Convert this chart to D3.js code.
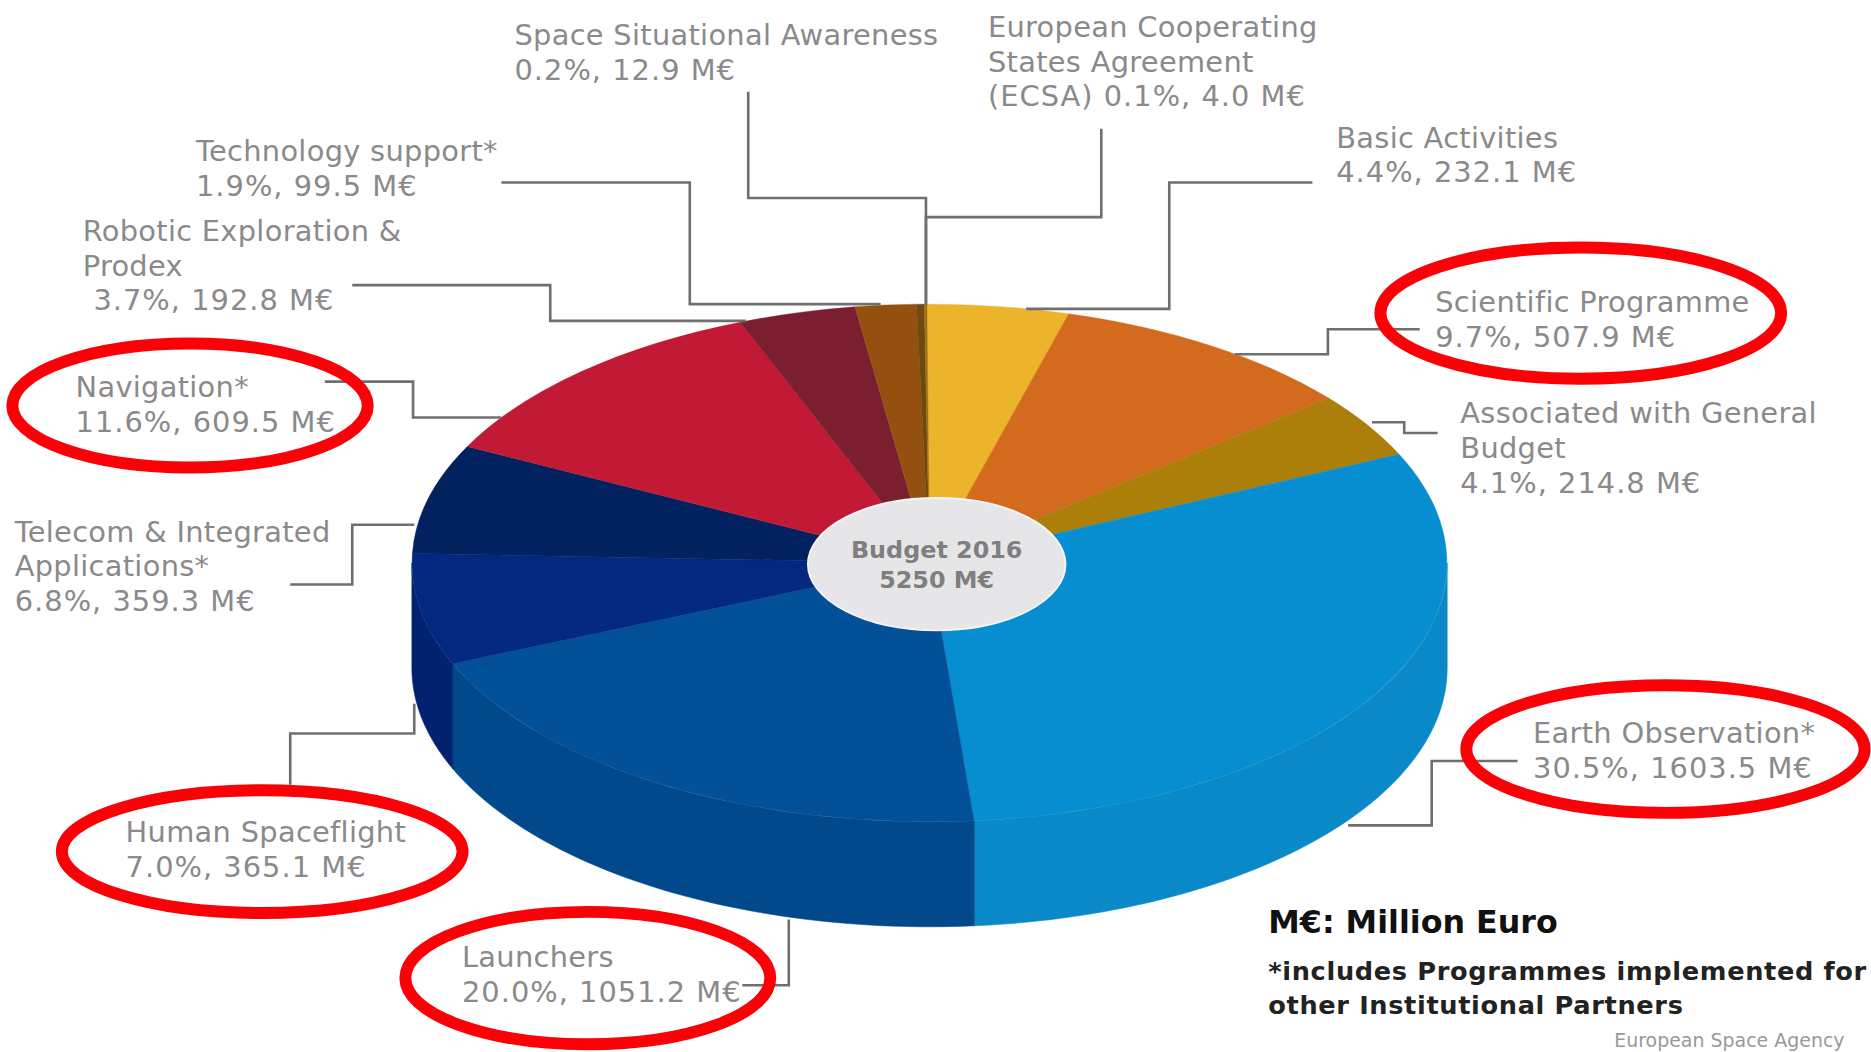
<!DOCTYPE html>
<html>
<head>
<meta charset="utf-8">
<title>ESA Budget 2016</title>
<script src="https://cdn.jsdelivr.net/npm/d3@7"></script>
<style>
  html, body { margin: 0; padding: 0; background: #fff; overflow: hidden; }
  svg { display: block; }
  text { font-family: "DejaVu Sans", Verdana, sans-serif; }
</style>
</head>
<body>
<svg id="chart" width="1871" height="1052" viewBox="0 0 1568 882"></svg>
<script>
// Programme budgets, clockwise from twelve o'clock
const programmes = ["Basic Activities", "Scientific Programme", "Associated with General Budget",
  "Earth Observation*", "Launchers", "Human Spaceflight", "Telecom & Integrated Applications*",
  "Navigation*", "Robotic Exploration & Prodex", "Technology support*",
  "Space Situational Awareness", "European Cooperating States Agreement (ECSA)"];
const shares = ["4.4", "9.7", "4.1", "30.5", "20.0", "7.0", "6.8", "11.6", "3.7", "1.9", "0.2", "0.1"];
const amounts = [232.1, 507.9, 214.8, 1603.5, 1051.2, 365.1, 359.3, 609.5, 192.8, 99.5, 12.9, 4.0];
const topColours = ["#ebb42a", "#d46a1e", "#ab7f0a", "#078ed0", "#025097", "#02287f", "#02225f",
  "#c21a35", "#7b1f30", "#93500f", "#6e4a10", "#a07010"];
const sideColours = ["#ebb42a", "#d46a1e", "#ab7f0a", "#0a89c9", "#01498b", "#01236f", "#02225f",
  "#c21a35", "#7b1f30", "#93500f", "#6e4a10", "#a07010"];
const budgetTitle = ["Budget 2016", "5250 M€"];

// Pie geometry on the 1568-wide drawing grid
const pieFrame = { cx: 779, cy: 472, rx: 434, ry: 217, depth: 88 };
const startDeg = -0.3;

// How each caption breaks and where it sits
const captions = [
  { lines: ["Basic Activities"], x: 1120, y: 124 },
  { lines: ["Scientific Programme"], x: 1203, y: 262 },
  { lines: ["Associated with General", "Budget"], x: 1224, y: 355 },
  { lines: ["Earth Observation*"], x: 1285, y: 623 },
  { lines: ["Launchers"], x: 387, y: 811 },
  { lines: ["Human Spaceflight"], x: 105, y: 706 },
  { lines: ["Telecom & Integrated", "Applications*"], x: 12, y: 454 },
  { lines: ["Navigation*"], x: 63, y: 333 },
  { lines: ["Robotic Exploration &", "Prodex"], x: 69, y: 202, valueX: 78 },
  { lines: ["Technology support*"], x: 164, y: 135 },
  { lines: ["Space Situational Awareness"], x: 431, y: 38 },
  { lines: ["European Cooperating", "States Agreement"], x: 828, y: 31, valuePrefix: "(ECSA) " }
];

// Elbowed leader lines from captions to slices
const leaders = [
  [[1100,153],[980,153],[980,259],[860,259]],
  [[1190,276],[1113,276],[1113,297],[1035,297]],
  [[1205,363],[1177,363],[1177,354],[1150,354]],
  [[1272,638],[1200,638],[1200,692],[1130,692]],
  [[622,826],[661,826],[661,771]],
  [[243,658],[243,615],[347,615],[347,590]],
  [[243,490],[295,490],[295,440],[347,440]],
  [[272,320],[346,320],[346,350],[420,350]],
  [[295,239],[461,239],[461,269],[625,269]],
  [[420,153],[578,153],[578,255],[738,255]],
  [[627,77],[627,166],[776,166],[776,256]],
  [[923,108],[923,182],[776,182],[776,256]]
];

// Red highlight rings around selected captions
const rings = [
  { cx: 1325, cy: 262.5, rx: 168, ry: 55 },
  { cx: 1396, cy: 628, rx: 167, ry: 53.5 },
  { cx: 219.5, cy: 714, rx: 168, ry: 51.5 },
  { cx: 492.5, cy: 820, rx: 153, ry: 55.5 },
  { cx: 159, cy: 340, rx: 149, ry: 52 }
];

const notes = [
  { text: "M€: Million Euro", x: 1063, y: 782, size: 26.6, spacing: 0, fill: "#111", weight: "bold" },
  { text: "*includes Programmes implemented for", x: 1063, y: 822, size: 21.5, spacing: 0.54, fill: "#222", weight: "bold" },
  { text: "other Institutional Partners", x: 1063, y: 850, size: 21.5, spacing: 0.54, fill: "#222", weight: "bold" },
  { text: "European Space Agency", x: 1353, y: 878, size: 15.9, spacing: 0, fill: "#999", weight: "normal" }
];

const svg = d3.select("#chart");

const slices = d3.pie().sort(null)
  .value(d => d)
  .startAngle(startDeg * Math.PI / 180)
  .endAngle((startDeg + 360) * Math.PI / 180)(amounts);

const { cx, cy, rx, ry, depth } = pieFrame;
const xOf = a => cx + rx * Math.sin(a);
const yOf = a => cy - ry * Math.cos(a);

// Extruded wall: only the part of each slice on the near half of the ellipse shows
const wall = d3.area().x(xOf).y0(yOf).y1(a => yOf(a) + depth);
const sideGroup = svg.append("g");
slices.forEach((s, i) => {
  const a0 = Math.max(s.startAngle, Math.PI / 2);
  const a1 = Math.min(s.endAngle, 3 * Math.PI / 2);
  if (a1 <= a0) return;
  const steps = 60;
  const angles = d3.range(steps + 1).map(k => a0 + (a1 - a0) * k / steps);
  sideGroup.append("path").attr("d", wall(angles))
    .attr("fill", sideColours[i]).attr("stroke", sideColours[i]).attr("stroke-width", 0.5);
});

// Top face: a unit pie squashed into the ellipse
const arc = d3.arc().innerRadius(0).outerRadius(1);
svg.append("g")
  .attr("transform", `translate(${cx},${cy}) scale(${rx},${ry})`)
  .selectAll("path").data(slices).join("path")
  .attr("d", arc)
  .attr("fill", (d, i) => topColours[i])
  .attr("stroke", (d, i) => topColours[i])
  .attr("stroke-width", 0.4)
  .attr("vector-effect", "non-scaling-stroke");

// Leaders
const elbow = d3.line();
svg.append("g").selectAll("path").data(leaders).join("path")
  .attr("d", d => elbow(d))
  .attr("fill", "none").attr("stroke", "#6f6f6f").attr("stroke-width", 2.2);

// Centre hub
svg.append("ellipse").attr("cx", 785).attr("cy", 473).attr("rx", 108).attr("ry", 55.5)
  .attr("fill", "#e6e6e8").attr("stroke", "#f6f6f8").attr("stroke-width", 1.5);
svg.append("g").selectAll("text").data(budgetTitle).join("text")
  .attr("x", 785).attr("y", (d, i) => 468 + i * 25)
  .attr("text-anchor", "middle").attr("font-size", 20).attr("font-weight", "bold")
  .attr("fill", "#7f7f7f").text(d => d);

// Captions: name lines, then "share, amount" set slightly wider
const captionGroup = svg.append("g").attr("fill", "#8a8a8a").attr("font-size", 24.2);
captions.forEach((c, i) => {
  const rows = c.lines.slice();
  const amount = amounts[i].toFixed(1);
  rows.push(`${c.valuePrefix || ""}${shares[i]}%, ${amount} M€`);
  rows.forEach((row, r) => {
    const isValueRow = r === rows.length - 1;
    captionGroup.append("text")
      .attr("x", isValueRow && c.valueX ? c.valueX : c.x)
      .attr("y", c.y + r * 29)
      .attr("letter-spacing", isValueRow ? 0.85 : 0.25)
      .text(row);
  });
});

// Footnotes and credit
svg.append("g").selectAll("text").data(notes).join("text")
  .attr("x", d => d.x).attr("y", d => d.y)
  .attr("font-size", d => d.size).attr("font-weight", d => d.weight)
  .attr("letter-spacing", d => d.spacing)
  .attr("fill", d => d.fill).text(d => d.text);

// Highlight rings go on top
svg.append("g").selectAll("ellipse").data(rings).join("ellipse")
  .attr("cx", d => d.cx).attr("cy", d => d.cy)
  .attr("rx", d => d.rx).attr("ry", d => d.ry)
  .attr("fill", "none").attr("stroke", "#fb0007").attr("stroke-width", 10);
</script>
</body>
</html>
